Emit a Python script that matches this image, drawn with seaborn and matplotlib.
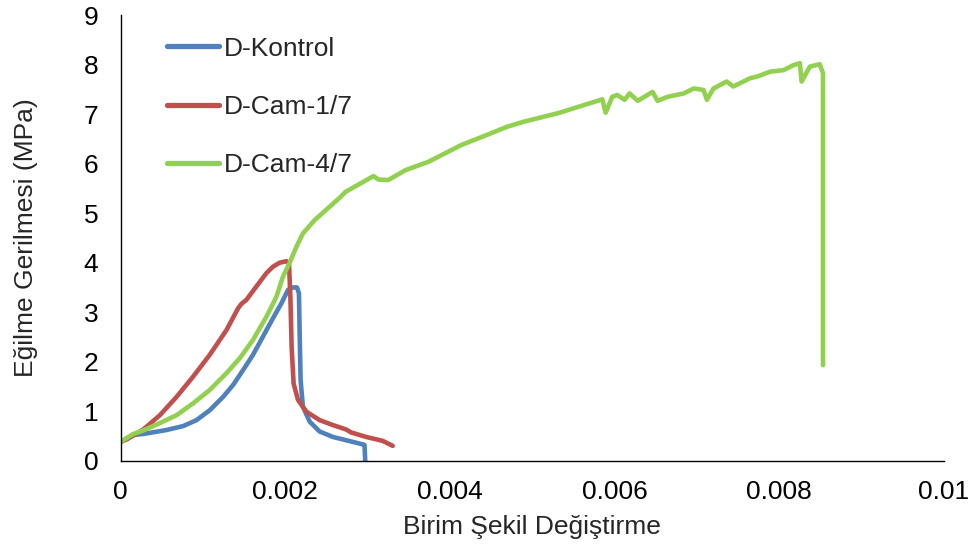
import numpy as np
import pandas as pd
import seaborn as sns
import matplotlib.pyplot as plt
from matplotlib.ticker import FuncFormatter

# Werte (Dehnung in 1e-3, Spannung in MPa)
kontrol_x = np.array([0, 0.153, 0.274, 0.557, 0.759, 0.921, 1.082, 1.244, 1.365, 1.486,
                      1.607, 1.729, 1.85, 1.952, 2.032, 2.092, 2.141, 2.165, 2.173, 2.185,
                      2.213, 2.295, 2.416, 2.577, 2.819, 2.961, 2.97]) * 1e-3
kontrol_y = [0.38, 0.52, 0.54, 0.62, 0.70, 0.82, 1.02, 1.29, 1.53, 1.83,
             2.14, 2.51, 2.88, 3.18, 3.45, 3.50, 3.50, 3.38, 2.64, 1.63,
             1.09, 0.79, 0.59, 0.48, 0.38, 0.32, 0.0]

cam17_x = np.array([0, 0.073, 0.274, 0.476, 0.679, 0.88, 1.082, 1.285, 1.426, 1.467,
                    1.527, 1.648, 1.77, 1.85, 1.931, 2.012, 2.044, 2.061, 2.076, 2.10,
                    2.153, 2.255, 2.416, 2.577, 2.739, 2.80, 2.982, 3.183, 3.304]) * 1e-3
cam17_y = [0.38, 0.43, 0.63, 0.92, 1.29, 1.70, 2.14, 2.64, 3.08, 3.17,
           3.25, 3.52, 3.79, 3.92, 4.00, 4.03, 3.99, 3.31, 2.30, 1.56,
           1.23, 0.99, 0.82, 0.72, 0.63, 0.57, 0.48, 0.40, 0.30]

cam47_x = np.array([0, 0.153, 0.274, 0.476, 0.679, 0.88, 1.082, 1.285, 1.446, 1.607,
                    1.77, 1.891, 1.971, 2.05, 2.133, 2.213, 2.355, 2.537, 2.671, 2.73,
                    3.07, 3.13, 3.25, 3.46, 3.74, 4.14, 4.34, 4.70, 4.90, 5.31,
                    5.85, 5.89, 5.97, 6.03, 6.12, 6.18, 6.28, 6.46, 6.52, 6.64,
                    6.84, 6.96, 7.08, 7.12, 7.20, 7.36, 7.44, 7.65, 7.73, 7.89,
                    8.05, 8.17, 8.25, 8.27, 8.37, 8.49, 8.53, 8.53]) * 1e-3
cam47_y = [0.38, 0.54, 0.61, 0.76, 0.92, 1.16, 1.43, 1.77, 2.07, 2.44,
           2.91, 3.31, 3.72, 3.99, 4.32, 4.59, 4.86, 5.13, 5.33, 5.43,
           5.75, 5.68, 5.67, 5.87, 6.04, 6.38, 6.51, 6.75, 6.85, 7.02,
           7.30, 7.03, 7.35, 7.39, 7.29, 7.42, 7.27, 7.45, 7.27, 7.35,
           7.42, 7.52, 7.49, 7.29, 7.52, 7.66, 7.56, 7.73, 7.76, 7.86,
           7.89, 7.99, 8.03, 7.66, 7.96, 8.01, 7.83, 1.93]

namen = ["D-Kontrol", "D-Cam-1/7", "D-Cam-4/7"]
farben = ["#4F81BD", "#C0504D", "#92D050"]
x_ticks = [0, 0.002, 0.004, 0.006, 0.008, 0.01]
y_ticks = list(range(0, 10))

df = pd.concat([
    pd.DataFrame({"Dehnung": kontrol_x, "Spannung": kontrol_y, "Probe": namen[0]}),
    pd.DataFrame({"Dehnung": cam17_x, "Spannung": cam17_y, "Probe": namen[1]}),
    pd.DataFrame({"Dehnung": cam47_x, "Spannung": cam47_y, "Probe": namen[2]}),
], ignore_index=True)

sns.set_style("white")
plt.rcParams['font.family'] = ['Liberation Sans', 'DejaVu Sans']
fs = 19

fig = plt.figure(figsize=(9.72, 5.52), dpi=100)
ax = fig.add_axes([120.7 / 972, 1 - 460.7 / 552, (944 - 120.7) / 972, 445.5 / 552])

sns.lineplot(data=df, x="Dehnung", y="Spannung", hue="Probe", hue_order=namen,
             palette=farben, sort=False, estimator=None, linewidth=3.3,
             solid_capstyle="round", solid_joinstyle="round", ax=ax)

ax.set_xlim(0, 0.01)
ax.set_ylim(0, 9)
ax.set_xticks(x_ticks)
ax.set_yticks(y_ticks)
ax.xaxis.set_major_formatter(FuncFormatter(lambda v, p: f"{v:g}"))

for s in ["top", "right"]:
    ax.spines[s].set_visible(False)
for s in ["left", "bottom"]:
    ax.spines[s].set_color("black")
    ax.spines[s].set_linewidth(1.0)

ax.tick_params(axis="x", direction="in", length=5, width=0.8, colors="black",
               labelsize=fs, pad=14)
ax.tick_params(axis="y", direction="out", length=5, width=0.8, colors="black",
               labelsize=fs, pad=11)

ax.set_xlabel("Birim Şekil Değiştirme", fontsize=fs, labelpad=8)
ax.set_ylabel("Eğilme Gerilmesi (MPa)", fontsize=fs, labelpad=33)

leg = ax.legend(loc="upper left", bbox_to_anchor=(166.7 / 972, 1 - 36.7 / 552),
                bbox_transform=fig.transFigure, frameon=False, fontsize=fs,
                handlelength=2.0, handletextpad=0.15, labelspacing=1.3,
                borderpad=0, borderaxespad=0)
for line in leg.get_lines():
    line.set_linewidth(3.8)

fig.savefig("out.png", dpi=100)
